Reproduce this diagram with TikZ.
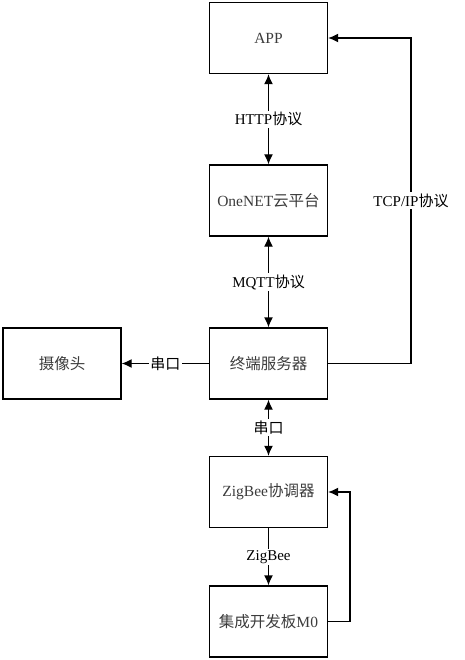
\documentclass[tikz,border=0pt]{standalone}
\usepackage{fontspec}
\setmainfont{Liberation Serif}
\newfontfamily\cjk{Noto Sans CJK SC}
\usepackage{tikz}
\usetikzlibrary{calc, arrows, arrows.meta, positioning}
\tikzset{>=latex}
\definecolor{boxtext}{RGB}{60, 60, 60}

\begin{document}
\begin{tikzpicture}[
    x = 1pt, y = -1pt,
    blk/.style = {draw, line width = 1.3pt, minimum width = 118pt, minimum height = 71pt, text = boxtext, font = \fontsize{15.5}{18}\selectfont},
    lbl/.style = {fill = white, inner sep = 1.5pt, font = \fontsize{15}{18}\selectfont},
    arr/.style = {->, line width = 1.3pt, >={Latex[length=10pt, width=9pt]}},
    darr/.style = {<->, line width = 1.3pt, >={Latex[length=10pt, width=9pt]}},
]
\useasboundingbox (0,0) rectangle (464,660);

\node[blk] (app)    at (268.5, 38)    {APP};
\node[blk] (onenet) at (268.5, 200.5) {OneNET{\cjk 云平台}};
\node[blk] (server) at (268.5, 363.5) {\cjk 终端服务器};
\node[blk] (camera) at (62, 363.5)    {\cjk 摄像头};
\node[blk] (zbc)    at (268.5, 492)   {ZigBee{\cjk 协调器}};
\node[blk] (board)  at (268.5, 621.5) {{\cjk 集成开发板}M0};

\coordinate (tcp) at (411, 38);
\coordinate (fb)  at (350, 492);

\draw[darr] (app) -- node[lbl] {HTTP{\cjk 协议}} (onenet);
\draw[darr] (onenet) -- node[lbl] {MQTT{\cjk 协议}} (server);
\draw[arr]  (server) -- node[lbl] {\cjk 串口} (camera);
\draw[darr] (server) -- node[lbl] {\cjk 串口} (zbc);
\draw[arr]  (zbc) -- node[lbl] {ZigBee} (board);
\draw[arr]  (server.east) -| node[lbl, pos = 0.75] {TCP/IP{\cjk 协议}} (tcp) -- (app.east);
\draw[arr]  (board.east) -| (fb) -- (zbc.east);
\end{tikzpicture}
\end{document}
